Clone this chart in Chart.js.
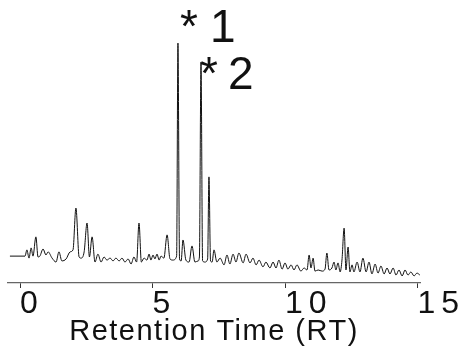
<!DOCTYPE html>
<html>
<head>
<meta charset="utf-8">
<title>Chromatogram</title>
<script src="https://cdn.jsdelivr.net/npm/chart.js@4.4.1/dist/chart.umd.min.js"></script>
<style>
  html, body { margin: 0; padding: 0; background: #fff; }
  #wrap { position: relative; width: 458px; height: 349px; }
</style>
</head>
<body>
<div id="wrap"><canvas id="chromChart"></canvas></div>
<script>
// retention time (min) and detector signal (% of full scale)
const retentionTime = [
  -0.38, 0.19, 0.26, 0.34, 0.42, 0.49, 0.60, 0.68, 0.75, 0.87, 0.98, 1.06, 1.21, 1.36, 1.47, 1.58,
  1.74, 1.89, 2.00, 2.11, 2.23, 2.30, 2.42, 2.53, 2.62, 2.72, 2.83, 2.94, 3.06, 3.17, 3.28, 3.40,
  3.51, 3.62, 3.74, 3.85, 3.96, 4.08, 4.19, 4.30, 4.40, 4.49, 4.58, 4.68, 4.79, 4.87, 4.94, 5.02,
  5.09, 5.17, 5.25, 5.32, 5.43, 5.55, 5.66, 5.77, 5.91, 5.96, 6.02, 6.08, 6.15, 6.26, 6.38, 6.49,
  6.60, 6.72, 6.77, 6.83, 6.89, 6.98, 7.08, 7.13, 7.19, 7.25, 7.32, 7.43, 7.55, 7.70, 7.81, 7.92,
  8.04, 8.15, 8.26, 8.42, 8.53, 8.68, 8.79, 8.91, 9.02, 9.17, 9.28, 9.43, 9.55, 9.66, 9.77, 9.89,
  10.00, 10.11, 10.23, 10.34, 10.45, 10.60, 10.72, 10.83, 10.91, 10.98, 11.06, 11.13, 11.25, 11.40,
  11.51, 11.58, 11.66, 11.77, 11.85, 11.92, 12.00, 12.08, 12.15, 12.23, 12.30, 12.38, 12.45, 12.53,
  12.60, 12.72, 12.83, 12.94, 13.06, 13.17, 13.28, 13.40, 13.51, 13.62, 13.74, 13.85, 13.96, 14.08,
  14.19, 14.30, 14.42, 14.53, 14.64, 14.75, 14.87, 14.98, 15.09
]
const signal = [
  9.5, 9.5, 11.7, 8.8, 12.4, 9.5, 16.3, 9.2, 9.5, 12.0, 9.9, 11.0, 8.8, 7.4, 11.0, 7.8,
  8.5, 11.0, 11.7, 26.5, 9.2, 8.8, 11.0, 21.2, 9.2, 16.3, 7.4, 10.2, 7.4, 9.2, 8.1, 8.8,
  7.8, 8.8, 7.8, 8.8, 7.4, 8.5, 6.7, 9.2, 7.4, 21.2, 7.4, 8.8, 8.1, 10.2, 8.1, 9.9,
  8.5, 10.2, 8.1, 9.5, 8.8, 17.0, 8.5, 8.1, 9.5, 84.8, 8.5, 7.8, 15.2, 8.1, 7.4, 13.1,
  7.4, 7.8, 9.2, 78.1, 7.8, 7.4, 8.5, 37.5, 7.8, 7.4, 11.7, 7.4, 8.8, 6.4, 9.9, 6.7,
  10.2, 7.4, 10.6, 7.1, 10.2, 7.1, 8.8, 6.4, 8.1, 5.7, 7.4, 5.3, 7.4, 5.3, 8.1, 4.9,
  7.1, 4.9, 6.4, 4.6, 6.4, 4.2, 5.3, 4.6, 9.9, 5.3, 8.8, 4.2, 4.6, 4.2,
  4.9, 10.6, 4.6, 5.3, 7.4, 4.6, 7.1, 3.9, 8.1, 19.4, 4.6, 12.7, 3.9, 6.4,
  3.9, 7.4, 3.9, 8.8, 3.9, 7.4, 3.2, 6.7, 3.5, 6.0, 3.2, 5.3, 3.2, 5.3,
  2.8, 4.6, 2.5, 4.6, 2.8, 3.9, 2.5, 3.5, 2.8
]

const xTicks = [0, 5, 10, 15]
const axisTitle = 'Retention Time (RT)'

// marked peaks
const peakNames = ['1', '2']
const peakRT = [5.96, 6.83]
const peakSignal = [84.8, 78.1]

const FONT = '"Liberation Sans", Arial, Helvetica, sans-serif'
// pixel offsets of the "*n" marks from each peak apex
const markOffsets = [
  { star: 2, num: 32, dy: -1 },
  { star: -1, num: 27, dy: 27 }
]

const peakMarks = {
  id: 'peakMarks',
  beforeDraw(chart) {
    // axis title is drawn before the datasets
    chart.ctx.letterSpacing = '1.5px'
  },
  afterDatasetsDraw(chart) {
    // tick labels are drawn after this (ticks.z = 1), spread them a little
    chart.ctx.letterSpacing = '6px'
  },
  afterDraw(chart) {
    const { ctx } = chart
    const x = chart.scales.x
    const y = chart.scales.y
    ctx.save()
    ctx.letterSpacing = '0px'
    ctx.font = '46px ' + FONT
    ctx.fillStyle = '#111'
    ctx.textAlign = 'left'
    ctx.textBaseline = 'alphabetic'
    peakNames.forEach((name, i) => {
      const px = x.getPixelForValue(peakRT[i])
      const py = y.getPixelForValue(peakSignal[i])
      const o = markOffsets[i]
      ctx.fillText('*', px + o.star, py + o.dy)
      ctx.fillText(name, px + o.num, py + o.dy)
    })
    ctx.restore()
  }
}

const ctx = document.getElementById('chromChart')
new Chart(ctx, {
  type: 'line',
  data: {
    datasets: [{
      data: retentionTime.map((t, i) => ({ x: t, y: signal[i] })),
      borderColor: '#111',
      borderWidth: 1,
      pointRadius: 0,
      fill: false,
      cubicInterpolationMode: 'monotone'
    }]
  },
  options: {
    responsive: true,
    maintainAspectRatio: false,
    animation: false,
    devicePixelRatio: 1,
    layout: { padding: { left: 8, right: 38, top: 0, bottom: 0 } },
    plugins: {
      legend: { display: false },
      tooltip: { enabled: false }
    },
    scales: {
      x: {
        type: 'linear',
        position: 'bottom',
        min: -0.453,
        max: 15.094,
        border: { display: true, color: '#666', width: 1.3 },
        grid: {
          drawOnChartArea: false,
          drawTicks: true,
          tickLength: 5,
          tickColor: '#333',
          tickWidth: 1
        },
        ticks: {
          align: 'start',
          padding: 0,
          z: 1,
          maxRotation: 0,
          autoSkip: false,
          color: '#111',
          font: { family: FONT, size: 32, lineHeight: 1 },
          callback: v => String(v)
        },
        title: {
          display: true,
          text: axisTitle,
          color: '#111',
          font: { family: FONT, size: 29, lineHeight: 1 },
          padding: { top: 0, bottom: 3 }
        },
        afterBuildTicks: scale => {
          scale.ticks = xTicks.map(v => ({ value: v }))
        },
        afterFit: scale => {
          scale.height = 66
          scale.paddingLeft = 0
          scale.paddingRight = 0
        }
      },
      y: {
        display: false,
        min: 0,
        max: 100
      }
    }
  },
  plugins: [peakMarks]
})
</script>
</body>
</html>
